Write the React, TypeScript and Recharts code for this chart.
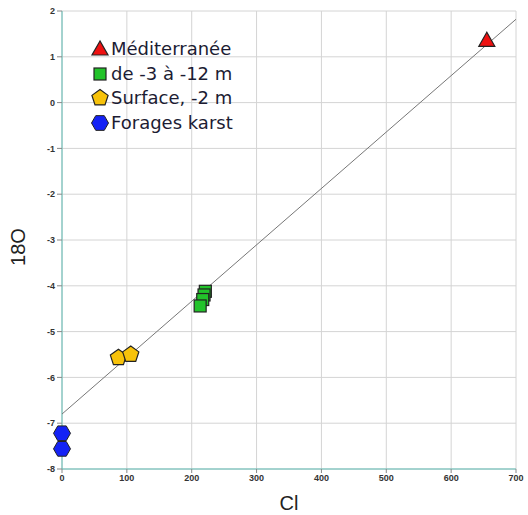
import React from "react";
import {
  ScatterChart,
  Scatter,
  XAxis,
  YAxis,
  CartesianGrid,
} from "recharts";

const mediterranee = [{ x: 655, y: 1.36 }];
const profond = [
  { x: 221, y: -4.12 },
  { x: 219, y: -4.2 },
  { x: 217, y: -4.3 },
  { x: 213, y: -4.44 },
];
const surface = [
  { x: 87, y: -5.57 },
  { x: 106, y: -5.5 },
];
const forages = [
  { x: 0, y: -7.22 },
  { x: 0, y: -7.56 },
];
const regression = [
  { x: 0, y: -6.8 },
  { x: 700, y: 1.82 },
];
const xTicks = [0, 100, 200, 300, 400, 500, 600, 700];
const yTicks = [2, 1, 0, -1, -2, -3, -4, -5, -6, -7, -8];

const seriesNames = ["Méditerranée", "de -3 à -12 m", "Surface, -2 m", "Forages karst"];
const yLabel = "18O";
const xLabel = "Cl";

const STROKE = "#222";

const polygon = (cx: number, cy: number, r: number, n: number, rot: number) => {
  const pts: string[] = [];
  for (let i = 0; i < n; i++) {
    const a = rot + (i * 2 * Math.PI) / n;
    pts.push(`${cx + r * Math.cos(a)},${cy + r * Math.sin(a)}`);
  }
  return pts.join(" ");
};

const Triangle = (p: any) => (
  <polygon
    points={`${p.cx},${p.cy - 8} ${p.cx - 8},${p.cy + 6} ${p.cx + 8},${p.cy + 6}`}
    fill="#ee1111"
    stroke={STROKE}
    strokeWidth={1.2}
  />
);
const Square = (p: any) => (
  <rect x={p.cx - 6} y={p.cy - 6} width={12} height={12} fill="#22c32a" stroke={STROKE} strokeWidth={1.2} />
);
const Pentagon = (p: any) => (
  <polygon points={polygon(p.cx, p.cy, 8.5, 5, -Math.PI / 2)} fill="#f7c20a" stroke={STROKE} strokeWidth={1.2} />
);
const Hexagon = (p: any) => (
  <polygon points={polygon(p.cx, p.cy, 8.5, 6, 0)} fill="#1422f5" stroke={STROKE} strokeWidth={1} />
);
const NoShape = () => null;

const legendShapes = [Triangle, Square, Pentagon, Hexagon];

const YLabel = (props: any) => {
  const vb = props.viewBox || { x: 0, y: 11, width: 62, height: 458 };
  const cx = vb.x + 18;
  const cy = vb.y + vb.height / 2 + 7;
  return (
    <text
      x={cx}
      y={cy}
      transform={`rotate(-90 ${cx} ${cy})`}
      textAnchor="middle"
      dominantBaseline="central"
      fill="#222"
      fontSize={20}
      fontFamily="Liberation Sans"
    >
      {yLabel}
    </text>
  );
};

const LegendBox = () => (
  <div
    style={{
      position: "absolute",
      left: 90,
      top: 37,
      fontFamily: "DejaVu Sans",
      fontSize: 18,
      color: "#1c1c33",
      lineHeight: "24.5px",
    }}
  >
    {seriesNames.map((name, i) => {
      const Shape = legendShapes[i];
      return (
        <div key={name} style={{ display: "flex", alignItems: "center", height: 24.5 }}>
          <svg width={20} height={20} style={{ marginRight: 1 }}>
            <Shape cx={10} cy={10} />
          </svg>
          <span>{name}</span>
        </div>
      );
    })}
  </div>
);

export default function App() {
  return (
    <div style={{ position: "absolute", left: 0, top: 0, width: 528, height: 515, background: "#fff" }}>
      <ScatterChart width={528} height={515} margin={{ top: 11, right: 12, bottom: 0, left: 0 }}>
        <CartesianGrid stroke="#d4d4d4" strokeWidth={1} />
        <XAxis
          type="number"
          dataKey="x"
          domain={[0, 700]}
          ticks={xTicks}
          height={46}
          stroke="#5fbcb4"
          tickLine={{ stroke: "#888" }}
          tickSize={4}
          tick={{ fill: "#333", fontSize: 9, fontWeight: "bold", fontFamily: "Liberation Sans" }}
          label={{ value: xLabel, position: "insideBottom", offset: 0, dy: -5, fill: "#222", fontSize: 20, fontFamily: "Liberation Sans" }}
        />
        <YAxis
          type="number"
          dataKey="y"
          domain={[-8, 2]}
          ticks={yTicks}
          width={62}
          stroke="#5fbcb4"
          tickLine={{ stroke: "#888" }}
          tickSize={5}
          tick={{ fill: "#333", fontSize: 9, fontWeight: "bold", fontFamily: "Liberation Sans" }}
          label={{ content: YLabel }}
        />
        <Scatter data={regression} line={{ stroke: "#777", strokeWidth: 1 }} shape={NoShape} isAnimationActive={false} legendType="none" />
        <Scatter data={forages} shape={Hexagon} isAnimationActive={false} />
        <Scatter data={surface} shape={Pentagon} isAnimationActive={false} />
        <Scatter data={profond} shape={Square} isAnimationActive={false} />
        <Scatter data={mediterranee} shape={Triangle} isAnimationActive={false} />
      </ScatterChart>
      <LegendBox />
    </div>
  );
}
